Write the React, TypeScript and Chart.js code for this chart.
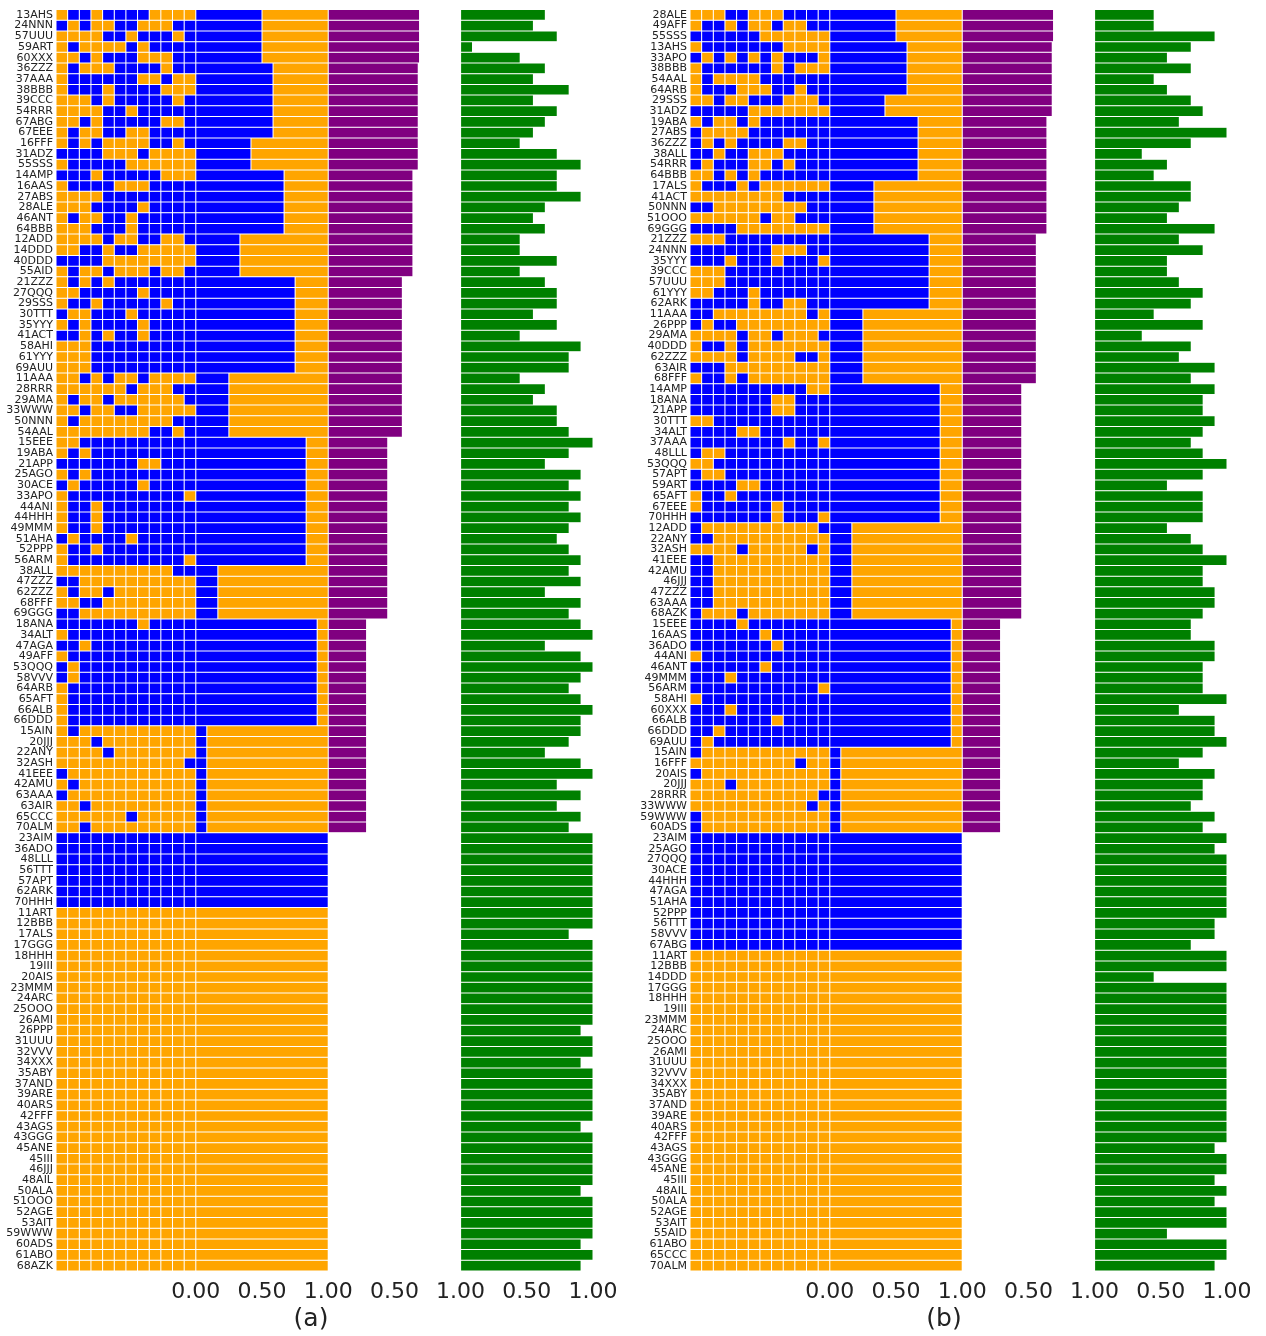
import React, { useEffect, useRef } from "react";
import { Chart, registerables } from "chart.js";
Chart.register(...registerables);

const BLUE = "#0000ff";
const ORANGE = "#ffa500";
const PURPLE = "#800080";
const GREEN = "#008000";
const FONT = "'DejaVu Sans', sans-serif";

// ---------------- panel (a) ----------------
const labelsA = ["13AHS","24NNN","57UUU","59ART","60XXX","36ZZZ","37AAA","38BBB","39CCC","54RRR","67ABG","67EEE","16FFF","31ADZ","55SSS","14AMP","16AAS","27ABS","28ALE","46ANT","64BBB","12ADD","14DDD","40DDD","55AID","21ZZZ","27QQQ","29SSS","30TTT","35YYY","41ACT","58AHI","61YYY","69AUU","11AAA","28RRR","29AMA","33WWW","50NNN","54AAL","15EEE","19ABA","21APP","25AGO","30ACE","33APO","44ANI","44HHH","49MMM","51AHA","52PPP","56ARM","38ALL","47ZZZ","62ZZZ","68FFF","69GGG","18ANA","34ALT","47AGA","49AFF","53QQQ","58VVV","64ARB","65AFT","66ALB","66DDD","15AIN","20JJJ","22ANY","32ASH","41EEE","42AMU","63AAA","63AIR","65CCC","70ALM","23AIM","36ADO","48LLL","56TTT","57APT","62ARK","70HHH","11ART","12BBB","17ALS","17GGG","18HHH","19III","20AIS","23MMM","24ARC","25OOO","26AMI","26PPP","31UUU","32VVV","34XXX","35ABY","37AND","39ARE","40ARS","42FFF","43AGS","43GGG","45ANE","45III","46JJJ","48AIL","50ALA","51OOO","52AGE","53AIT","59WWW","60ADS","61ABO","68AZK"];

const gridA = [
  "011011110000","101001100011","000011011101","010000101111","001011100011",
  "010001111011","011111100100","011101111000","000101111101","000011011111","001011111001","010011001111",
  "010100001101","111100010000","011111000000",
  "111011111000","011110001111","000011111111","000111101111","010011011111","000111011111",
  "000010011001","001101100000","111100000000","010010001001",
  "010101111111","001111101111","011011111011","100111011111","010111101111","110101101111","000111111111","000111111111","000111111111",
  "001010010000","000000100011","010010000001","001001100000","010000000011","000000001101",
  "001111111111","010111111111","111111100111","010111111111","101111101111","011111111110","011011111111","011011111111","011011111111","101111011111","011011111111","011111111110",
  "000000000011","110000000000","010010000000","001100000000","110000000000",
  "111111101111","011111111111","110111111111","011111111111","101111111111","101111111111","011111111111","011111111111","011111111111","011111111111",
  "010000000000","000100000000","000010000000","000000000001","100000000000","010000000000","100000000000","001000000000","000000100000","001000000000",
  "111111111111","111111111111","111111111111","111111111111","111111111111","111111111111","111111111111",
  "000000000000","000000000000","000000000000","000000000000","000000000000","000000000000","000000000000","000000000000","000000000000","000000000000",
  "000000000000","000000000000","000000000000","000000000000","000000000000","000000000000","000000000000","000000000000","000000000000","000000000000",
  "000000000000","000000000000","000000000000","000000000000","000000000000","000000000000","000000000000","000000000000","000000000000","000000000000",
  "000000000000","000000000000","000000000000","000000000000"
];

// blue share of each row, in twelfths
const blueTwelfthsA = [
  6,6,6,6,6, 7,7,7,7,7,7,7, 5,5,5, 8,8,8,8,8,8, 4,4,4,4,
  9,9,9,9,9,9,9,9,9, 3,3,3,3,3,3,
  10,10,10,10,10,10,10,10,10,10,10,10, 2,2,2,2,2,
  11,11,11,11,11,11,11,11,11,11, 1,1,1,1,1,1,1,1,1,1,
  12,12,12,12,12,12,12,
  0,0,0,0,0,0,0,0,0,0, 0,0,0,0,0,0,0,0,0,0, 0,0,0,0,0,0,0,0,0,0, 0,0,0,0
];

const purpleA = [
  0.69,0.69,0.69,0.69,0.69,
  0.68,0.68,0.68,0.68,0.68,0.68,0.68,0.68,0.68,0.68,
  0.64,0.64,0.64,0.64,0.64,0.64,0.64,0.64,0.64,0.64,
  0.56,0.56,0.56,0.56,0.56,0.56,0.56,0.56,0.56,0.56,0.56,0.56,0.56,0.56,0.56,
  0.45,0.45,0.45,0.45,0.45,0.45,0.45,0.45,0.45,0.45,0.45,0.45,0.45,0.45,0.45,0.45,0.45,
  0.29,0.29,0.29,0.29,0.29,0.29,0.29,0.29,0.29,0.29,0.29,0.29,0.29,0.29,0.29,0.29,0.29,0.29,0.29,0.29,
  0,0,0,0,0,0,0,0,0,0, 0,0,0,0,0,0,0,0,0,0, 0,0,0,0,0,0,0,0,0,0, 0,0,0,0,0,0,0,0,0,0, 0
];

const greenA = [
  0.64,0.55,0.73,0.09,0.45,0.64,0.55,0.82,0.55,0.73,0.64,0.55,0.45,0.73,0.91,0.73,0.73,0.91,0.64,0.55,
  0.64,0.45,0.45,0.73,0.45,0.64,0.73,0.73,0.55,0.73,0.45,0.91,0.82,0.82,0.45,0.64,0.55,0.73,0.73,0.82,
  1,0.82,0.64,0.91,0.82,0.91,0.82,0.91,0.82,0.73,0.82,0.91,0.82,0.91,0.64,0.91,0.82,0.91,1,
  0.64,0.91,1,0.91,0.82,0.91,1,0.91,0.91,0.82,0.64,0.91,1,0.73,0.91,0.73,0.91,0.82,
  1,1,1,1,1,1,1,1,1,0.82,1,1,1,1,1,1,1,1,0.91,1,1,0.91,1,1,1,1,1,0.91,1,1,1,1,1,0.91,1,1,1,1,0.91,1,0.91
];

// ---------------- panel (b) ----------------
const labelsB = ["28ALE","49AFF","55SSS","13AHS","33APO","38BBB","54AAL","64ARB","29SSS","31ADZ","19ABA","27ABS","36ZZZ","38ALL","54RRR","64BBB","17ALS","41ACT","50NNN","51OOO","69GGG","21ZZZ","24NNN","35YYY","39CCC","57UUU","61YYY","62ARK","11AAA","26PPP","29AMA","40DDD","62ZZZ","63AIR","68FFF","14AMP","18ANA","21APP","30TTT","34ALT","37AAA","48LLL","53QQQ","57APT","59ART","65AFT","67EEE","70HHH","12ADD","22ANY","32ASH","41EEE","42AMU","46JJJ","47ZZZ","63AAA","68AZK","15EEE","16AAS","36ADO","44ANI","46ANT","49MMM","56ARM","58AHI","60XXX","66ALB","66DDD","69AUU","15AIN","16FFF","20AIS","20JJJ","28RRR","33WWW","59WWW","60ADS","23AIM","25AGO","27QQQ","30ACE","44HHH","47AGA","51AHA","52PPP","56TTT","58VVV","67ABG","11ART","12BBB","14DDD","17GGG","18HHH","19III","23MMM","24ARC","25OOO","26AMI","31UUU","32VVV","34XXX","35ABY","37AND","39ARE","40ARS","42FFF","43AGS","43GGG","45ANE","45III","48AIL","50ALA","52AGE","53AIT","55AID","61ABO","65CCC","70ALM"];

const gridB = [
  "000110001111","011010010011","111111000000",
  "011111110000","101010101110","011111101000","010000111111","011100011011",
  "001001110001","111110000000",
  "010010111111","100001111111","101011110011","110110001111","101110010111","001010111111",
  "011101000000","000000001111","110000000011","000000100111","111100000000",
  "000111111111","111111100011","111011101110","000111111111","000111111111","001110111111","111110110011",
  "110000000010","101100000000","000010010001","011010000000","000010000110","111000000000","011010000000",
  "111111111100","111111100111","111111100111","001111111111","111100111111","111111110110","100111111111","001111111111","100111111111","111100111111","011011111111","011111101111","111111101110",
  "100000000001","110000000000","000010000010","110000000000","110000000000","110000000000","110000000000","110000000000","100010000000",
  "111101111111","111111011111","111111101111","011111111111","111111011111","111011111111","111111111110","011111111111","111011111111","111111101111","110111111111","101111111111",
  "100000000000","000000000100","100000000000","000100000000","000000000001","000000000010","100000000000","100000000000",
  "111111111111","111111111111","111111111111","111111111111","111111111111","111111111111","111111111111","111111111111","111111111111","111111111111","111111111111",
  "000000000000","000000000000","000000000000","000000000000","000000000000","000000000000","000000000000","000000000000","000000000000","000000000000",
  "000000000000","000000000000","000000000000","000000000000","000000000000","000000000000","000000000000","000000000000","000000000000","000000000000",
  "000000000000","000000000000","000000000000","000000000000","000000000000","000000000000","000000000000","000000000000","000000000000","000000000000"
];

const blueTwelfthsB = [
  6,6,6, 7,7,7,7,7, 5,5, 8,8,8,8,8,8, 4,4,4,4,4,
  9,9,9,9,9,9,9, 3,3,3,3,3,3,3,
  10,10,10,10,10,10,10,10,10,10,10,10,10, 2,2,2,2,2,2,2,2,2,
  11,11,11,11,11,11,11,11,11,11,11,11, 1,1,1,1,1,1,1,1,
  12,12,12,12,12,12,12,12,12,12,12,
  0,0,0,0,0,0,0,0,0,0, 0,0,0,0,0,0,0,0,0,0, 0,0,0,0,0,0,0,0,0,0
];

const purpleB = [
  0.69,0.69,0.69,
  0.68,0.68,0.68,0.68,0.68,0.68,0.68,
  0.64,0.64,0.64,0.64,0.64,0.64,0.64,0.64,0.64,0.64,0.64,
  0.56,0.56,0.56,0.56,0.56,0.56,0.56,0.56,0.56,0.56,0.56,0.56,0.56,0.56,
  0.45,0.45,0.45,0.45,0.45,0.45,0.45,0.45,0.45,0.45,0.45,0.45,0.45,0.45,0.45,0.45,0.45,0.45,0.45,0.45,0.45,0.45,
  0.29,0.29,0.29,0.29,0.29,0.29,0.29,0.29,0.29,0.29,0.29,0.29,0.29,0.29,0.29,0.29,0.29,0.29,0.29,0.29,
  0,0,0,0,0,0,0,0,0,0, 0,0,0,0,0,0,0,0,0,0, 0,0,0,0,0,0,0,0,0,0, 0,0,0,0,0,0,0,0,0,0, 0
];

const greenB = [
  0.45,0.45,0.91,0.73,0.55,0.73,0.45,0.55,0.73,0.82,0.64,1,0.73,0.36,0.55,0.45,0.73,0.73,0.64,0.55,
  0.91,0.64,0.82,0.55,0.55,0.64,0.82,0.73,0.45,0.82,0.36,0.73,0.64,0.91,0.73,0.91,0.82,0.82,0.91,0.82,
  0.73,0.82,1,0.82,0.55,0.82,0.82,0.82,0.55,0.73,0.82,1,0.82,0.82,0.91,0.91,0.82,0.73,0.73,
  0.91,0.91,0.82,0.82,0.82,1,0.64,0.91,0.91,1,0.82,0.64,0.91,0.82,0.82,0.73,0.91,0.82,
  1,0.91,1,1,1,1,1,1,0.91,0.91,0.73,1,1,0.45,1,1,1,1,1,1,1,1,1,1,1,1,1,1,1,0.91,1,1,0.91,1,0.91,1,1,0.55,1,1,0.91
];

const xTickValues = [0, 0.5, 1, 1.5, 2, 2.5, 3];
const xTickLabels = ["0.00", "0.50", "1.00", "0.50", "1.00", "0.50", "1.00"];

const GRID_MIN = -1.056; // left edge of the 12-column grid, in axis units

type PanelProps = {
  labels: string[];
  grid: string[];
  blue: number[];
  purple: number[];
  green: number[];
  left: number;
  width: number;
  axisWidth: number;
  padRight: number;
};

function Panel(p: PanelProps) {
  const ref = useRef<HTMLCanvasElement>(null);
  useEffect(() => {
    if (!ref.current) return;
    const common = {
      barPercentage: 1,
      categoryPercentage: 1,
      grouped: false,
      borderWidth: 0.5,
      borderColor: "#ffffff",
      borderSkipped: false,
      inflateAmount: 0,
    };
    const cw = -GRID_MIN / 12;
    const datasets: any[] = [];
    for (let k = 0; k < 12; k++) {
      datasets.push({
        ...common,
        data: p.grid.map(() => [GRID_MIN + k * cw, GRID_MIN + (k + 1) * cw]),
        backgroundColor: p.grid.map((r) => (r[k] === "1" ? BLUE : ORANGE)),
      });
    }
    datasets.push({ ...common, data: p.blue.map((c) => (c > 0 ? [0, c / 12] : null)), backgroundColor: BLUE });
    datasets.push({ ...common, data: p.blue.map((c) => (c < 12 ? [c / 12, 1] : null)), backgroundColor: ORANGE });
    datasets.push({ ...common, data: p.purple.map((e) => (e > 0 ? [1, 1 + e] : null)), backgroundColor: PURPLE });
    datasets.push({ ...common, data: p.green.map((g) => [2, 2 + g]), backgroundColor: GREEN });

    const chart = new Chart(ref.current, {
      type: "bar",
      data: { labels: p.labels, datasets },
      options: {
        indexAxis: "y",
        animation: false,
        responsive: false,
        devicePixelRatio: 1,
        layout: { padding: { top: 9, right: p.padRight, left: 0, bottom: 0 } },
        plugins: { legend: { display: false }, tooltip: { enabled: false } },
        scales: {
          y: {
            type: "category",
            offset: true,
            grid: { display: false, drawTicks: false },
            border: { display: false },
            ticks: {
              autoSkip: false,
              padding: 3,
              color: "#222222",
              font: { family: FONT, size: 11 },
            },
            afterFit: (s: any) => {
              s.width = p.axisWidth;
            },
          },
          x: {
            type: "linear",
            min: GRID_MIN,
            max: 3,
            grid: { display: false, drawTicks: false },
            border: { display: false },
            afterBuildTicks: (s: any) => {
              s.ticks = xTickValues.map((v) => ({ value: v }));
            },
            ticks: {
              autoSkip: false,
              maxRotation: 0,
              padding: 8,
              color: "#222222",
              font: { family: FONT, size: 22 },
              callback: (_v: any, i: number) => xTickLabels[i] ?? "",
            },
            afterFit: (s: any) => {
              s.height = 65;
            },
          },
        },
      } as any,
    });
    return () => chart.destroy();
  }, []);
  return (
    <canvas
      ref={ref}
      width={p.width}
      height={1336}
      style={{ position: "absolute", left: p.left, top: 0, width: p.width, height: 1336 }}
    />
  );
}

const captionStyle = (cx: number): React.CSSProperties => ({
  position: "absolute",
  left: cx - 40,
  width: 80,
  top: 1305,
  height: 26,
  lineHeight: "26px",
  textAlign: "center",
  fontFamily: FONT,
  fontSize: 25,
  color: "#222222",
});

export default function App() {
  return (
    <div style={{ position: "absolute", left: 0, top: 0, width: 1266, height: 1336, background: "#ffffff" }}>
      <Panel labels={labelsA} grid={gridA} blue={blueTwelfthsA} purple={purpleA} green={greenA} left={0} width={633} axisWidth={56} padRight={40} />
      <Panel labels={labelsB} grid={gridB} blue={blueTwelfthsB} purple={purpleB} green={greenB} left={633} width={633} axisWidth={57} padRight={39} />
      <div style={captionStyle(311)}>(a)</div>
      <div style={captionStyle(944)}>(b)</div>
    </div>
  );
}
